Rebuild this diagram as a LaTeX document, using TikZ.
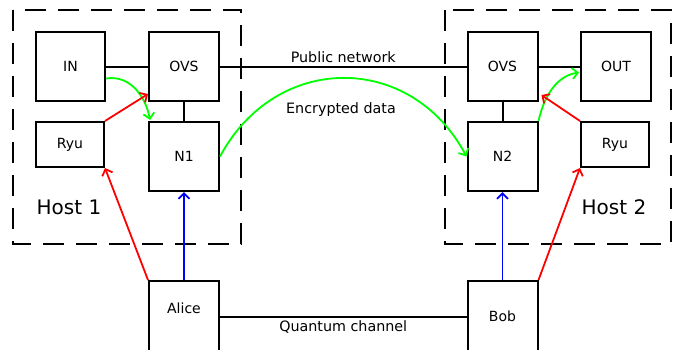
\documentclass[tikz,border=0pt]{standalone}
\usepackage{fontspec}
\setmainfont{DejaVu Sans}
\usetikzlibrary{calc, arrows, arrows.meta}

\begin{document}
\begin{tikzpicture}[x=1pt,y=-1pt,>={Straight Barb[length=5.5pt,width=11pt]},line width=2pt,
    box/.style={draw, line width=2pt, inner sep=0pt, font=\fontsize{14}{16}\selectfont},
    host/.style={draw, line width=2pt, dash pattern=on 21pt off 12pt},
    txt/.style={font=\fontsize{14.3}{16}\selectfont},
    key/.style={line width=1.8pt, ->}]
        \useasboundingbox (0,0) rectangle (673,349);

        % the two hosts
        \draw[host] (13,10) rectangle (241,244);
        \draw[host] (445,10) rectangle (671,244);
        \node[font=\fontsize{20}{23}\selectfont] (hostA) at (69,207) {Host 1};
        \node[font=\fontsize{20}{23}\selectfont] (hostB) at (614,207) {Host 2};

        % the boxes
        \node[box, minimum width=69pt, minimum height=69pt] (inp) at (70.5,66.5) {IN};
        \node[box, minimum width=70pt, minimum height=69pt] (ovsA) at (184,66.5) {OVS};
        \node[box, minimum width=68pt, minimum height=45pt] (ryuA) at (70,144.5) {Ryu};
        \node[box, minimum width=70pt, minimum height=69pt] (nA) at (184,156.5) {N1};
        \node[box, minimum width=70pt, minimum height=69pt] (ovsB) at (502.5,66.5) {OVS};
        \node[box, minimum width=70pt, minimum height=69pt] (out) at (616,66.5) {OUT};
        \node[box, minimum width=70pt, minimum height=69pt] (nB) at (502.5,156.5) {N2};
        \node[box, minimum width=68pt, minimum height=45pt] (ryuB) at (615,144.5) {Ryu};
        \node[box, minimum width=70pt, minimum height=72pt, text depth=18pt] (alice) at (184,317) {Alice};
        \node[box, minimum width=70pt, minimum height=72pt, text depth=2pt] (bob) at (502.5,317) {Bob};

        % the plain links
        \draw (inp.east) -- (ovsA.west);
        \draw (ovsA.east) -- node[txt, above=-1pt] (pub) {Public network} (ovsB.west);
        \draw (ovsB.east) -- (out.west);
        \draw (ovsA.south) -- (nA.north);
        \draw (ovsB.south) -- (nB.north);
        \draw (alice.east) -- node[txt, below=-1pt] (qch) {Quantum channel} (bob.west);

        % the data path
        \draw[key, green] ($(inp.east)+(0,12)$) .. controls +(25,-4) and +(-4,-22) .. ($(nA.north west)+(2,-1)$);
        \draw[key, green] (nA.east) .. controls (276,52) and (411,52) .. (nB.west);
        \node[txt] (enc) at (341,110) {Encrypted data};
        \draw[key, green] (nB.north east) .. controls +(6,-27) and +(-21,3) .. ($(out.west)+(-1,6)$);

        % the keys
        \draw[key, red] (ryuA.north east) -- ($(ovsA.south west)+(0,-8)$);
        \draw[key, red] (alice.north west) -- (ryuA.south east);
        \draw[key, red] (ryuB.north west) -- ($(ovsB.south east)+(3,-7)$);
        \draw[key, red] (bob.north east) -- (ryuB.south west);
        \draw[key, blue] (alice.north) -- (nA.south);
        \draw[key, blue] (bob.north) -- (nB.south);
\end{tikzpicture}
\end{document}
